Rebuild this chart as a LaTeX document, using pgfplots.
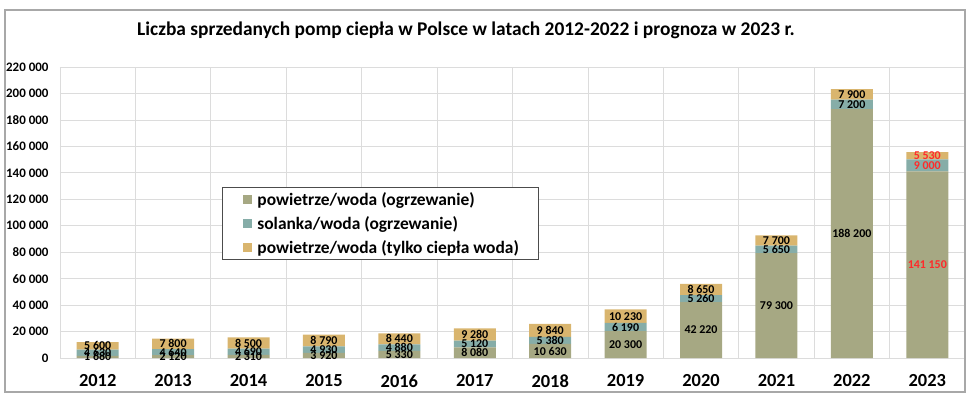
\documentclass[border=0pt]{standalone}
\usepackage{fontspec}
\setmainfont{Carlito}
\usepackage{pgfplots}
\pgfplotsset{compat=1.18}
\usepackage{pgfplotstable}
\usetikzlibrary{calc}

\definecolor{olive}{HTML}{A6A883}
\definecolor{teal}{HTML}{86ADA8}
\definecolor{tan}{HTML}{D9B56E}
\definecolor{gridc}{HTML}{DCDCDC}
\definecolor{framec}{HTML}{A8A8A8}
\definecolor{redlab}{HTML}{FF2A2A}

% rok, powietrze/woda (ogrz.), solanka/woda (ogrz.), powietrze/woda (cwu)
\pgfplotstableread{
x year pw sw cw
0 2012 1680 4630 5600
1 2013 2120 4640 7800
2 2014 2310 4690 8500
3 2015 3920 4930 8790
4 2016 5330 4880 8440
5 2017 8080 5120 9280
6 2018 10630 5380 9840
7 2019 20300 6190 10230
8 2020 42220 5260 8650
9 2021 79300 5650 7700
10 2022 188200 7200 7900
11 2023 141150 9000 5530
}\data

\pgfplotsset{
  frame/.style={scale only axis, width=905bp, height=291bp,
    xmin=-0.5, xmax=11.5, ymin=0, ymax=220000},
  lab/.style={draw=none, mark=none, nodes near coords, point meta=explicit,
    every node near coord/.append style={anchor=center, inner sep=0pt,
      font=\bfseries\fontsize{12}{12}\selectfont},
    /pgf/number format/fixed, /pgf/number format/precision=0,
    /pgf/number format/1000 sep={\ }, /pgf/number format/assume math mode=true},
}

\begin{document}
\begin{tikzpicture}
\begin{axis}[name=ax, frame,
    ybar stacked, bar width=42bp,
    axis line style={draw=none},
    major tick length=0pt, minor tick length=0pt,
    xtick={0,...,11},
    xticklabels={2012,2013,2014,2015,2016,2017,2018,2019,2020,2021,2022,2023},
    minor xtick={-0.5,0.5,...,11.5},
    xminorgrids, ymajorgrids,
    minor grid style={gridc, line width=0.8bp},
    major grid style={gridc, line width=0.8bp},
    ytick={0,20000,...,220000},
    scaled y ticks=false,
    yticklabel style={font=\bfseries\fontsize{13}{13}\selectfont, xshift=-8bp,
      /pgf/number format/fixed, /pgf/number format/1000 sep={\ },
      /pgf/number format/assume math mode=true},
    xticklabel style={font=\bfseries\fontsize{18.5}{18.5}\selectfont, yshift=-13bp},
    legend style={at={(0.179,0.588)}, anchor=north west, draw=black!70,
      line width=0.8bp, font=\bfseries\fontsize{17.5}{20}\selectfont,
      inner xsep=17bp, inner ysep=3bp, row sep=5.5bp},
    legend cell align=left,
    legend image code/.code={\path (-4bp,0) (12bp,0);
      \draw[#1, draw=none] (0bp,-4.5bp) rectangle (9bp,4.5bp);},
  ]
\addplot[fill=olive, draw=none] table[x=x, y=pw] {\data};
\addplot[fill=teal, draw=none] table[x=x, y=sw] {\data};
\addplot[fill=tan, draw=none] table[x=x, y=cw] {\data};
\legend{powietrze/woda (ogrzewanie), solanka/woda (ogrzewanie), powietrze/woda (tylko ciepła woda)}
\end{axis}

\begin{axis}[frame, at={(ax.south west)}, anchor=south west, hide axis]
\addplot[lab, restrict x to domain=0:10] table[x=x, y expr=\thisrow{pw}/2, meta=pw] {\data};
\addplot[lab, restrict x to domain=0:10] table[x=x, y expr=\thisrow{pw}+\thisrow{sw}/2, meta=sw] {\data};
\addplot[lab, restrict x to domain=0:10] table[x=x, y expr=\thisrow{pw}+\thisrow{sw}+\thisrow{cw}/2, meta=cw] {\data};
\addplot[lab, restrict x to domain=11:11, every node near coord/.append style={text=redlab}] table[x=x, y expr=\thisrow{pw}/2, meta=pw] {\data};
\addplot[lab, restrict x to domain=11:11, every node near coord/.append style={text=redlab}] table[x=x, y expr=\thisrow{pw}+\thisrow{sw}/2, meta=sw] {\data};
\addplot[lab, restrict x to domain=11:11, every node near coord/.append style={text=redlab}] table[x=x, y expr=\thisrow{pw}+\thisrow{sw}+\thisrow{cw}/2, meta=cw] {\data};
\end{axis}

\node[font=\bfseries\fontsize{19.5}{19.5}\selectfont] at ($(ax.south west)+(406bp,328bp)$)
  {Liczba sprzedanych pomp ciepła w Polsce w latach 2012-2022 i prognoza w 2023 r.};
\draw[framec, line width=1.2bp] ($(ax.south west)+(-55bp,-34bp)$) rectangle ($(ax.south west)+(905bp,348bp)$);
\path ($(ax.south west)+(-60bp,-43bp)$) rectangle ($(ax.south west)+(910bp,358bp)$);
\end{tikzpicture}
\end{document}
